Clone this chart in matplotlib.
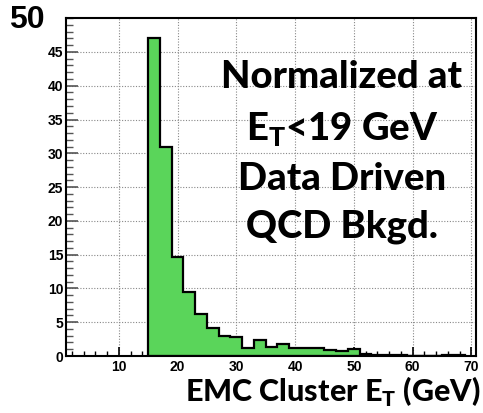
"""EMC cluster E_T distribution, data-driven QCD background"""

import matplotlib
matplotlib.use("Agg")
import matplotlib.pyplot as plt
from matplotlib.ticker import MultipleLocator

# Bin edges (GeV) and bin contents
bin_edges = [15, 17, 19, 21, 23, 25, 27, 29, 31, 33, 35, 37, 39, 41, 43,
             45, 47, 49, 51, 53, 55, 57, 59, 61, 63, 65, 67, 69]
bin_counts = [47.0, 31.0, 14.6, 9.5, 6.2, 4.1, 3.0, 2.8, 1.25, 2.3, 1.4, 1.8,
              1.2, 1.2, 1.2, 0.9, 0.7, 1.0, 0.25, 0.08, 0.15, 0.15, 0.0, 0.0,
              0.0, 0.15, 0.15]
x_ticks = [10, 20, 30, 40, 50, 60, 70]
y_ticks = [0, 5, 10, 15, 20, 25, 30, 35, 40, 45]
note_lines = ["Normalized at", r"E$_\mathregular{T}$<19 GeV", "Data Driven", "QCD Bkgd."]
note_baselines = [0.787, 0.659, 0.540, 0.424]  # figure fraction

fig = plt.figure(figsize=(4.83, 4.13), dpi=100)
ax = fig.add_axes([0.1366, 0.138, 0.8489, 0.818])

ax.hist(bin_edges[:-1], bins=bin_edges, weights=bin_counts,
        histtype="stepfilled", facecolor="#5ad55a", edgecolor="black",
        linewidth=1.6, zorder=2)

ax.set_xlim(1, 70.8)
ax.set_ylim(0, 50)
ax.set_xticks(x_ticks)
ax.set_yticks(y_ticks)
ax.xaxis.set_minor_locator(MultipleLocator(2))
ax.yaxis.set_minor_locator(MultipleLocator(1))

ax.grid(True, which="major", linestyle=(0, (1, 1.5)), color="#888888", linewidth=0.8, zorder=0)
ax.set_axisbelow(True)

for s in ax.spines.values():
    s.set_linewidth(1.5)
    s.set_zorder(3)

ax.tick_params(axis="x", which="major", direction="in", length=6.5, width=1.2, pad=3)
ax.tick_params(axis="x", which="minor", direction="in", length=3.6, width=1.0)
ax.tick_params(axis="y", which="major", direction="in", length=8.5, width=1.2, pad=2, color="#555555")
ax.tick_params(axis="y", which="minor", direction="in", length=5, width=1.0, color="#555555")
for lab in ax.get_xticklabels() + ax.get_yticklabels():
    lab.set_fontfamily("Liberation Sans")
    lab.set_fontweight("bold")
    lab.set_fontsize(10)

# big "50" at top-left of the y axis
fig.text(0.018, 0.952, "50", fontsize=23, fontweight="bold",
         family="Liberation Sans", ha="left", va="center")

# annotation block
for line, yb in zip(note_lines, note_baselines):
    fig.text(0.708, yb, line, fontsize=27.5, fontweight="black",
             family="Lato", ha="center", va="baseline")

fig.text(0.996, 0.026, r"EMC Cluster E$_\mathregular{T}$ (GeV)", fontsize=22,
         fontweight="black", family="Lato", ha="right", va="baseline")

fig.savefig("out.png", dpi=100)
